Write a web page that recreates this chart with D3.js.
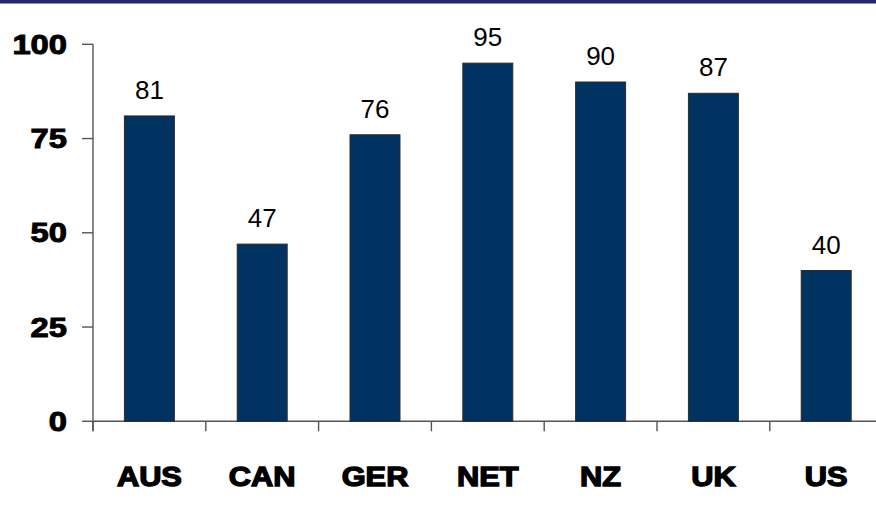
<!DOCTYPE html>
<html lang="en">
<head>
<meta charset="UTF-8">
<title>Bar chart</title>
<style>
    body {
        margin: 0;
        background: #ffffff;
        font-family: 'Liberation Sans', Arial, sans-serif;
    }
    .bar {
        fill: #003262;
        stroke: #2b2b2b;
        stroke-width: 1;
    }
    .axis-line {
        stroke: #555555;
        stroke-width: 1.4;
        fill: none;
    }
    .value-label {
        font-size: 26px;
        fill: #000;
    }
    .tick-label {
        font-size: 28px;
        font-weight: bold;
        fill: #000;
        stroke: #000;
        stroke-width: 1;
    }
    .cat-label {
        font-size: 28px;
        font-weight: bold;
        fill: #000;
        stroke: #000;
        stroke-width: 1.4;
    }
</style>
</head>
<body>
<div id="chart"></div>
<script src="https://d3js.org/d3.v7.min.js"></script>
<script>
    const width = 876, height = 508;

    // data
    const countries = ["AUS", "CAN", "GER", "NET", "NZ", "UK", "US"];
    const values = [81, 47, 76, 95, 90, 87, 40];
    const yTicks = [0, 25, 50, 75, 100];

    const svg = d3.select("#chart")
        .append("svg")
        .attr("width", width)
        .attr("height", height);

    // the dark strip along the top edge
    svg.append("rect")
        .attr("x", 0).attr("y", 0)
        .attr("width", width).attr("height", 3.5)
        .attr("fill", "#25256e");

    const x = d3.scaleBand()
        .domain(countries)
        .range([93, 93 + 7 * 112.8])
        .paddingInner(0.557)
        .paddingOuter(0.557 / 2);

    const y = d3.scaleLinear()
        .domain([0, 100])
        .range([421.3, 44.3]);

    // y axis
    svg.append("line")
        .attr("class", "axis-line")
        .attr("x1", 93).attr("x2", 93)
        .attr("y1", y(100)).attr("y2", y(0) + 10);

    svg.selectAll(".ytick")
        .data(yTicks)
        .enter().append("line")
        .attr("class", "axis-line")
        .attr("x1", 82).attr("x2", 93)
        .attr("y1", d => y(d)).attr("y2", d => y(d));

    svg.selectAll(".tick-label")
        .data(yTicks)
        .enter().append("text")
        .attr("class", "tick-label")
        .attr("x", 67)
        .attr("y", d => y(d))
        .attr("dy", "0.34em")
        .attr("text-anchor", "end")
        .attr("textLength", d => String(d).length * 18.2)
        .attr("lengthAdjust", "spacingAndGlyphs")
        .text(d => d);

    // x axis
    svg.append("line")
        .attr("class", "axis-line")
        .attr("x1", 93).attr("x2", width)
        .attr("y1", y(0)).attr("y2", y(0));

    const step = x.step();
    const bounds = d3.range(countries.length + 1).map(i => 93 + i * step);
    svg.selectAll(".xtick")
        .data(bounds)
        .enter().append("line")
        .attr("class", "axis-line")
        .attr("x1", d => d).attr("x2", d => d)
        .attr("y1", y(0)).attr("y2", y(0) + 10);

    // bars
    svg.selectAll(".bar")
        .data(values)
        .enter().append("rect")
        .attr("class", "bar")
        .attr("x", (d, i) => x(countries[i]))
        .attr("y", d => y(d))
        .attr("width", x.bandwidth())
        .attr("height", d => y(0) - y(d));

    // value labels
    svg.selectAll(".value-label")
        .data(values)
        .enter().append("text")
        .attr("class", "value-label")
        .attr("x", (d, i) => x(countries[i]) + x.bandwidth() / 2)
        .attr("y", d => y(d) - 17)
        .attr("text-anchor", "middle")
        .text(d => d);

    // category labels, a little wider like the heavy face in the original
    svg.selectAll(".cat-label")
        .data(countries)
        .enter().append("text")
        .attr("class", "cat-label")
        .attr("transform", d => `translate(${x(d) + x.bandwidth() / 2},486) scale(1.1,1)`)
        .attr("text-anchor", "middle")
        .text(d => d);
</script>
</body>
</html>
